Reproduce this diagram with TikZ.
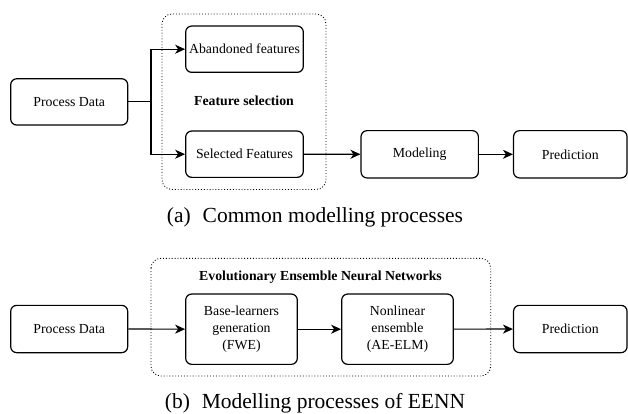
\documentclass[tikz,border=0pt]{standalone}
\usepackage{fontspec}
\setmainfont{Liberation Serif}
\usetikzlibrary{arrows.meta,positioning}
\tikzset{
  box/.style={draw, line width=1.2pt, rounded corners=6pt, align=center, inner sep=1pt,
    font=\fontsize{13.8}{17}\selectfont},
  group/.style={draw, dotted, line width=0.9pt, rounded corners=10pt},
  conn/.style={line width=1.2pt, -{Stealth[length=10pt,width=9pt,inset=3pt]}},
  plain/.style={line width=1.2pt},
  grouptitle/.style={font=\fontsize{13.8}{17}\selectfont\bfseries},
  captext/.style={font=\fontsize{21.5}{24}\selectfont, anchor=base}
}
\begin{document}
\begin{tikzpicture}[x=1pt,y=-1pt]
\useasboundingbox (0,0) rectangle (628,414);
% ---- part (a)
\draw[group] (162,14) rectangle (326,189.5);
\node[box, minimum width=117pt, minimum height=46.3pt] (pda) at (69.2,101.9) {Process Data};
\node[box, minimum width=117.6pt, minimum height=46.3pt] (aband) at (244.5,49.2) {Abandoned features};
\node[box, minimum width=117.6pt, minimum height=46.3pt] (sel) at (244.5,154.2) {Selected Features};
\node[box, minimum width=117.3pt, minimum height=47.3pt] (model) at (419.7,154.3) {Modeling};
\node[box, minimum width=113.5pt, minimum height=47.3pt] (preda) at (570.3,154.3) {Prediction};
\node[grouptitle] (fs) at (244,101) {Feature selection};
\coordinate (br) at (151,101.9);
\draw[plain] (pda.east) -- (br);
\draw[conn] (br) |- (aband.west);
\draw[conn] (br) |- (sel.west);
\draw[conn] (sel) -- (model);
\draw[conn] (model) -- (preda);
\node[captext] (capa) at (315,222.5) {(a)\hspace{0.3em} Common modelling processes};
% ---- part (b)
\draw[group] (151,258.3) rectangle (490.7,376);
\node[grouptitle] (eenn) at (320.5,276.7) {Evolutionary Ensemble Neural Networks};
\node[box, minimum width=117pt, minimum height=47.3pt] (pdb) at (69.2,329) {Process Data};
\node[box, minimum width=111.6pt, minimum height=70.3pt] (base) at (241.5,329.2) {Base-learners\\generation\\(FWE)};
\node[box, minimum width=111.6pt, minimum height=70.3pt] (nonlin) at (397.5,329.2) {Nonlinear\\ensemble\\(AE-ELM)};
\node[box, minimum width=113.5pt, minimum height=47.3pt] (predb) at (570.3,329) {Prediction};
\draw[conn] (pdb) -- (base);
\draw[conn] (base) -- (nonlin);
\draw[conn] (nonlin) -- (predb);
\node[captext] (capb) at (315,408) {(b)\hspace{0.3em} Modelling processes of EENN};
\end{tikzpicture}
\end{document}
